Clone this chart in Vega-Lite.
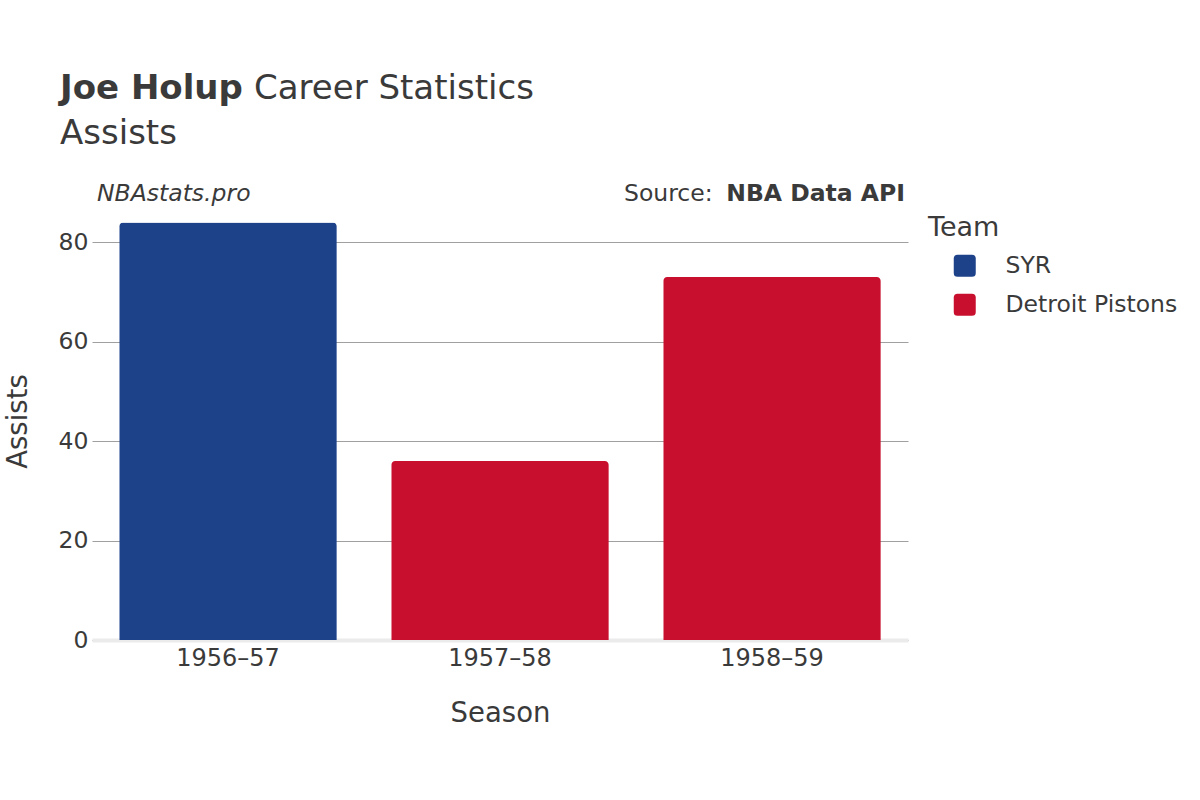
{
  "$schema": "https://vega.github.io/schema/vega-lite/v6.json",
  "padding": {"left": 4, "top": 71, "right": 0, "bottom": 0},
  "background": "white",
  "config": {
    "font": "DejaVu Sans",
    "view": {"stroke": null},
    "title": {"font": "DejaVu Sans", "color": "#3a3a3a", "anchor": "start", "frame": "group", "fontWeight": "normal"},
    "concat": {"spacing": 0}
  },
  "title": {"text": "Joe Holup", "fontSize": 34, "fontWeight": "bold", "dx": -32, "offset": -34},
  "vconcat": [
    {
      "title": {"text": "Career Statistics", "fontSize": 34, "dx": 162, "offset": 11},
      "vconcat": [
        {
          "title": {"text": "Assists", "fontSize": 34, "dx": -32, "offset": 31},
          "vconcat": [
            {
              "title": {"text": "NBAstats.pro", "fontSize": 23.5, "fontStyle": "italic", "dx": 5, "offset": -24},
              "vconcat": [
                {
                  "title": {"text": "Source:", "fontSize": 23.5, "dx": 532, "offset": -24},
                  "vconcat": [
                    {
                      "title": {"text": "NBA Data API", "fontSize": 23.5, "fontWeight": "bold", "anchor": "end", "dx": -3, "offset": -3},
                      "width": 816,
                      "height": 438,
                      "data": {"values": [
                        {"season": "1956–57", "team": "SYR", "assists": 84},
                        {"season": "1957–58", "team": "Detroit Pistons", "assists": 36},
                        {"season": "1958–59", "team": "Detroit Pistons", "assists": 73}
                      ]},
                      "mark": {"type": "bar", "cornerRadiusTopLeft": 4, "cornerRadiusTopRight": 4},
                      "encoding": {
                        "x": {
                          "field": "season", "type": "nominal", "title": "Season",
                          "scale": {"paddingInner": 0.2, "paddingOuter": 0.1},
                          "axis": {
                            "labelAngle": 0, "labelFontSize": 24, "labelColor": "#3a3a3a", "labelPadding": 6,
                            "ticks": false, "domainColor": "#ebebeb", "domainWidth": 4, "zindex": 0,
                            "titleFontSize": 27.5, "titleFontWeight": "normal", "titleColor": "#3a3a3a", "titlePadding": 29
                          }
                        },
                        "y": {
                          "field": "assists", "type": "quantitative", "title": "Assists",
                          "scale": {"domain": [0, 88.1], "nice": false},
                          "axis": {
                            "values": [0, 20, 40, 60, 80], "labelFontSize": 23.5, "labelColor": "#3a3a3a", "labelPadding": 4,
                            "ticks": false, "domain": false, "gridColor": "#a0a0a0", "gridWidth": 1,
                            "titleFontSize": 27.5, "titleFontWeight": "normal", "titleColor": "#3a3a3a", "titlePadding": 26
                          }
                        },
                        "color": {
                          "field": "team", "type": "nominal", "title": "Team",
                          "scale": {"domain": ["SYR", "Detroit Pistons"], "range": ["#1d428a", "#c8102e"]},
                          "legend": {
                            "orient": "right", "offset": 7, "padding": 13,
                            "titleFontSize": 27, "titleFontWeight": "normal", "titleColor": "#3a3a3a", "titlePadding": 12,
                            "labelFontSize": 23.5, "labelColor": "#3a3a3a", "labelOffset": 29, "labelLimit": 400,
                            "symbolType": "M -0.65 -1 L 0.65 -1 Q 1 -1 1 -0.65 L 1 0.65 Q 1 1 0.65 1 L -0.65 1 Q -1 1 -1 0.65 L -1 -0.65 Q -1 -1 -0.65 -1 Z",
                            "symbolSize": 484, "symbolOffset": 25, "symbolStrokeWidth": 0, "symbolOpacity": 1, "rowPadding": 14
                          }
                        }
                      }
                    }
                  ]
                }
              ]
            }
          ]
        }
      ]
    }
  ]
}
